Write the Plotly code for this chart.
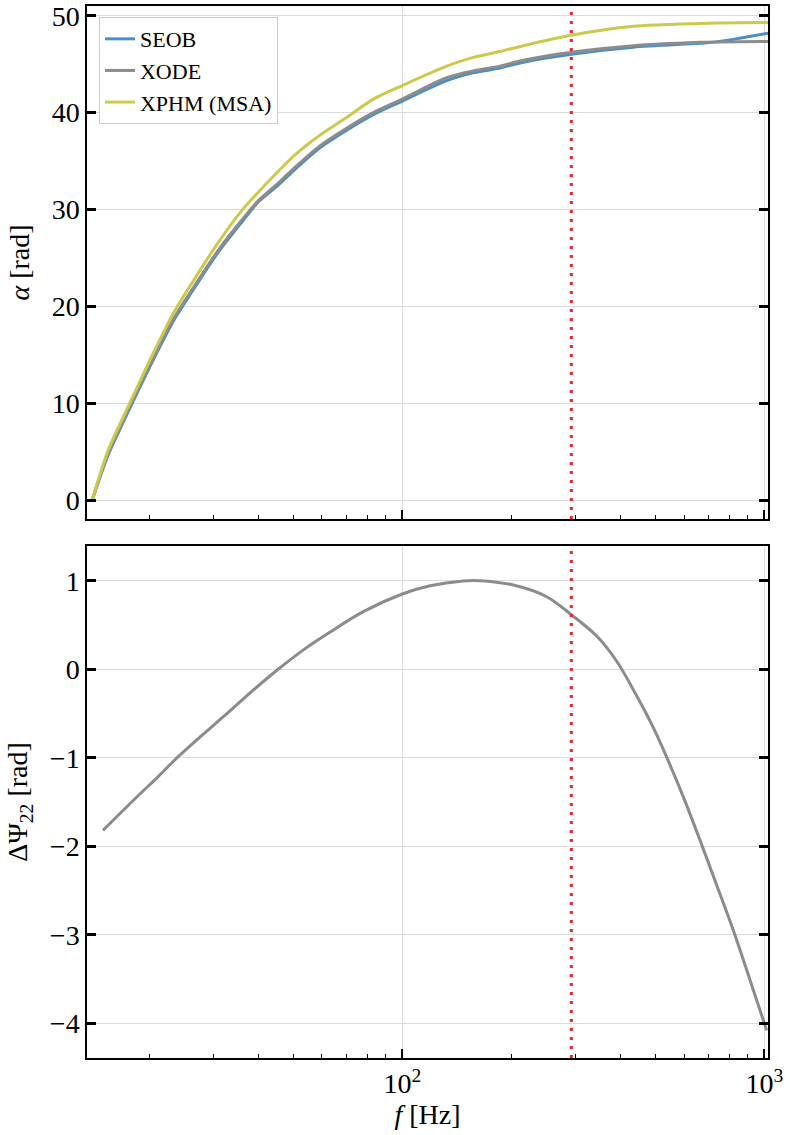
import plotly.graph_objects as go

# top panel: precession angle alpha vs frequency
f_top = [13.9, 15.4, 17.1, 18.9, 20.7, 23.3, 26.2, 31.0, 36.0, 40.0, 45.0, 50.0,
         59.3, 70.2, 83.2, 100, 132.6, 157, 186, 216, 290, 435, 664, 738, 1026]
alpha_seob = [0, 4.7, 8.4, 11.8, 14.8, 18.5, 21.5, 25.6, 28.7, 30.8, 32.4, 34.0,
              36.4, 38.2, 39.8, 41.2, 43.3, 44.1, 44.6, 45.2, 46.0, 46.75, 47.15, 47.3, 48.2]
alpha_xode = [0, 4.9, 8.6, 12.0, 15.0, 18.7, 21.7, 25.8, 28.9, 30.9, 32.6, 34.2,
              36.6, 38.4, 40.0, 41.4, 43.6, 44.3, 44.8, 45.4, 46.2, 46.9, 47.25, 47.3, 47.35]
alpha_xphm = [0, 5.2, 8.9, 12.4, 15.5, 19.3, 22.4, 26.6, 29.9, 31.8, 33.8, 35.5,
              37.7, 39.5, 41.4, 42.8, 44.8, 45.7, 46.3, 46.9, 47.95, 48.9, 49.2, 49.25, 49.3]

# bottom panel: phase difference
f_bot = [14.9, 18.3, 21.2, 24.0, 27.9, 32.4, 38.4, 45.4, 53.8, 63.2, 78.0, 100,
         119.3, 147.4, 163.9, 202.6, 250.6, 293.8, 344.4, 391.1, 444, 493.6, 537, 597,
         664, 738.8, 821, 913, 1015]
dpsi = [-1.82, -1.46, -1.21, -0.99, -0.75, -0.52, -0.25, 0.0, 0.23, 0.42, 0.65, 0.85,
        0.943, 0.997, 1.0, 0.951, 0.819, 0.612, 0.375, 0.09, -0.30, -0.66, -0.99, -1.44,
        -1.93, -2.44, -2.95, -3.51, -4.08]

f_cut = 293

series = [("SEOB", alpha_seob, "#4a90c6"),
          ("XODE", alpha_xode, "#8c8c8c"),
          ("XPHM (MSA)", alpha_xphm, "#cbca4c")]

minor_vals = [20, 30, 40, 50, 60, 70, 80, 90, 200, 300, 400, 500, 600, 700, 800, 900]

FONT = "Liberation Serif"

fig = go.Figure()
for name, vals, col in series:
    fig.add_trace(go.Scatter(x=f_top, y=vals, name=name, mode="lines",
                             line=dict(color=col, width=3, shape="spline", smoothing=0.8),
                             xaxis="x", yaxis="y"))
fig.add_trace(go.Scatter(x=f_bot, y=dpsi, mode="lines", showlegend=False,
                         line=dict(color="#8c8c8c", width=3, shape="spline", smoothing=0.9),
                         xaxis="x2", yaxis="y2"))

for xr, yref in [("x", "y domain"), ("x2", "y2 domain")]:
    fig.add_shape(type="line", xref=xr, yref=yref, x0=f_cut, x1=f_cut, y0=0, y1=1,
                  line=dict(color="#e8272a", width=3, dash="3px,6px"))

xcommon = dict(type="log", range=[1.129, 3.0102], showline=True, linecolor="black",
               linewidth=1.5, mirror=True, ticks="inside", ticklen=9, tickwidth=2,
               tickcolor="black", tickvals=[100, 1000], automargin=False,
               showgrid=True, gridcolor="#dcdcdc", gridwidth=1, zeroline=False,
               minor=dict(tickvals=minor_vals, ticks="inside", ticklen=4,
                          tickwidth=1, tickcolor="black", showgrid=False))
ycommon = dict(showline=True, linecolor="black", linewidth=1.5, mirror="ticks",
               ticks="inside", ticklen=9, tickwidth=2.5, tickcolor="black",
               showgrid=True, gridcolor="#dcdcdc", gridwidth=1, zeroline=False,
               automargin=False, tickfont=dict(size=28), title_font=dict(size=28))

fig.update_layout(
    width=790, height=1135,
    margin=dict(l=87, r=22, t=6, b=77),
    paper_bgcolor="white", plot_bgcolor="white",
    font=dict(family=FONT, color="black", size=28),
    xaxis=dict(xcommon, domain=[0, 1], anchor="y", showticklabels=False),
    xaxis2=dict(xcommon, domain=[0, 1], anchor="y2", matches="x",
                ticktext=["10<sup>2</sup>", "10<sup>3</sup>"],
                tickfont=dict(size=28),
                title=dict(text="<i>f</i> [Hz]", font=dict(size=28), standoff=2)),
    yaxis=dict(ycommon, domain=[0.5124, 1], anchor="x", range=[-1.9, 51.0],
               tickvals=[0, 10, 20, 30, 40, 50],
               title=dict(text="<i>α</i> [rad]", standoff=14)),
    yaxis2=dict(ycommon, domain=[0, 0.4867], anchor="x2", range=[-4.392, 1.392],
                tickvals=[-4, -3, -2, -1, 0, 1],
                title=dict(text="ΔΨ<sub>22</sub> [rad]", standoff=14)),
    legend=dict(x=0.0176, y=0.9895, xanchor="left", yanchor="top",
                bgcolor="white", bordercolor="#cccccc", borderwidth=1,
                font=dict(size=22), tracegroupgap=0),
)

# drop the browser's default body margin so the figure sits at the page corner
fig.write_html("out.html", config={"displayModeBar": False},
               post_script="document.body.style.margin='0px';")
